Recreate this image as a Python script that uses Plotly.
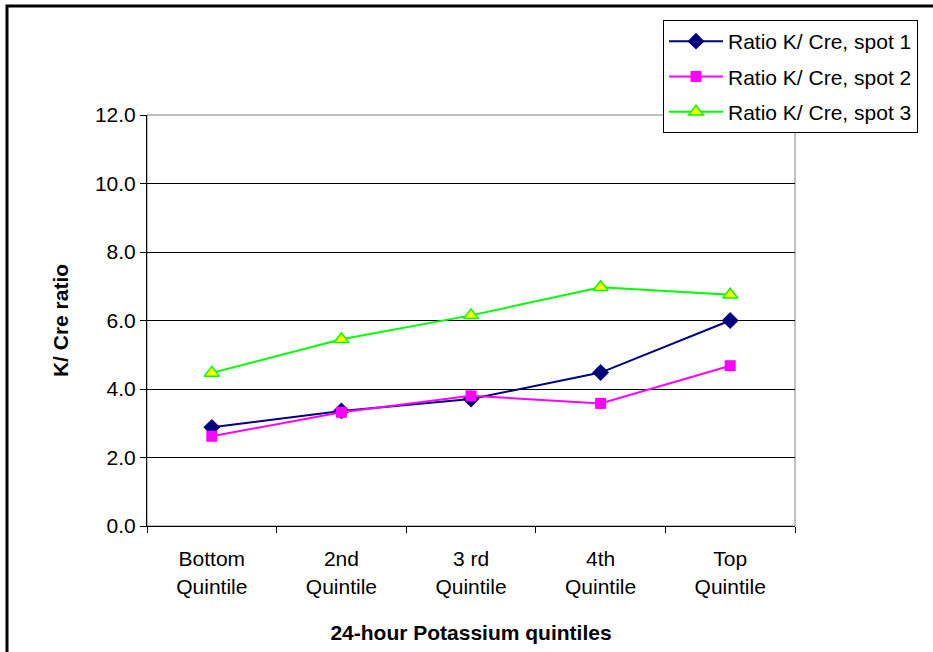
import plotly.graph_objects as go

# Quintile categories and K/Cre ratios per spot
categories = ["Bottom<br>Quintile", "2nd<br>Quintile", "3 rd<br>Quintile", "4th<br>Quintile", "Top<br>Quintile"]
spot1 = [2.88, 3.36, 3.71, 4.48, 6.00]
spot2 = [2.62, 3.32, 3.80, 3.58, 4.68]
spot3 = [4.47, 5.45, 6.15, 6.97, 6.75]
y_ticks = [0, 2, 4, 6, 8, 10, 12]

W, H = 933, 652
L, R, T, B = 147, 138, 115, 126
pw, ph = W - L - R, H - T - B

def px_x(x):
    return (x - L) / pw

def px_y(y):
    return (H - B - y) / ph

FONT = "Liberation Sans, Arial, sans-serif"
FS = 21

fig = go.Figure()
fig.add_trace(go.Scatter(
    x=categories, y=spot1, name="Ratio K/ Cre, spot 1", mode="lines+markers",
    legendgroup="s1",
    line=dict(color="#000080", width=2),
    marker=dict(symbol="diamond", size=13, color="#000080"),
))
fig.add_trace(go.Scatter(
    x=categories, y=spot2, name="Ratio K/ Cre, spot 2", mode="lines+markers",
    legendgroup="s2",
    line=dict(color="#FF00FF", width=2),
    marker=dict(symbol="square", size=11, color="#FF00FF"),
))
fig.add_trace(go.Scatter(
    x=categories, y=spot3, name="Ratio K/ Cre, spot 3", mode="lines+markers",
    legendgroup="s3",
    line=dict(color="#00FF00", width=2),
    marker=dict(symbol="triangle-up", size=13, color="#FFFF00",
                line=dict(color="#00FF00", width=1.5)),
))

fig.update_layout(
    width=W, height=H,
    margin=dict(l=L, r=R, t=T, b=B, autoexpand=False),
    paper_bgcolor="white", plot_bgcolor="white",
    font=dict(family=FONT, size=FS, color="black"),
    showlegend=True,
    legend=dict(
        x=px_x(663), y=px_y(20), xanchor="left", yanchor="top",
        bordercolor="black", borderwidth=1, bgcolor="white",
        font=dict(size=FS), tracegroupgap=5, itemwidth=54,
    ),
    xaxis=dict(
        type="category", range=[-0.5, 4.5], showgrid=False, zeroline=False,
        showline=True, linecolor="black", linewidth=1,
        ticks="outside", tickson="boundaries", ticklen=6, tickcolor="black",
        tickfont=dict(size=FS), ticklabelstandoff=14,
        title=dict(text="<b>24-hour Potassium quintiles</b>", font=dict(size=FS), standoff=28),
    ),
    yaxis=dict(
        range=[0, 12], tickvals=y_ticks, tickformat=".1f",
        showgrid=True, gridcolor="black", gridwidth=1,
        zeroline=False, showline=True, linecolor="black", linewidth=1,
        ticks="outside", ticklen=6, tickcolor="black",
        tickfont=dict(size=FS),
        title=dict(text="<b>K/ Cre ratio</b>", font=dict(size=FS), standoff=20),
    ),
    shapes=[
        # grey frame around the plot area
        dict(type="rect", xref="paper", yref="paper", x0=0, y0=0, x1=1, y1=1,
             line=dict(color="#808080", width=1), layer="below"),
        # outer chart border
        dict(type="rect", xref="paper", yref="paper",
             x0=px_x(7), y0=px_y(670), x1=px_x(950), y1=px_y(6),
             line=dict(color="black", width=3)),
    ],
)

fig.write_html("out.html")
